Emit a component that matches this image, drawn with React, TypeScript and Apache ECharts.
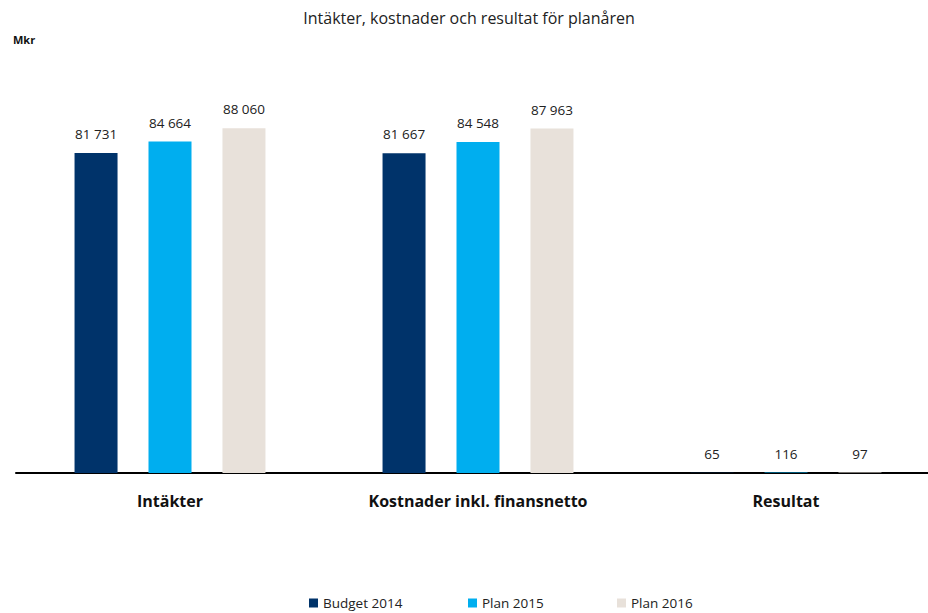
import React, { useEffect, useRef } from "react";
import * as echarts from "echarts";

const categories = ["Intäkter", "Kostnader inkl. finansnetto", "Resultat"];
const seriesNames = ["Budget 2014", "Plan 2015", "Plan 2016"];
const budget2014 = [81731, 81667, 65];
const plan2015 = [84664, 84548, 116];
const plan2016 = [88060, 87963, 97];
const colors = ["#00336A", "#00AEEF", "#E8E1DA"];

const fmt = (v: number) => String(v).replace(/\B(?=(\d{3})+(?!\d))/g, " ");

export default function App() {
  const ref = useRef<HTMLDivElement>(null);
  useEffect(() => {
    const chart = echarts.init(ref.current!, null, { renderer: "svg" });
    const font = "'Open Sans', 'Noto Sans', sans-serif";
    const data = [budget2014, plan2015, plan2016];
    const legendLefts = [309, 468, 617];
    chart.setOption({
      animation: false,
      backgroundColor: "#ffffff",
      title: [
        {
          text: "Intäkter, kostnader och resultat för planåren",
          left: 464,
          textAlign: "center",
          top: 5,
          textStyle: { fontFamily: font, fontSize: 16, fontWeight: "normal", color: "#222" },
        },
        {
          text: "Mkr",
          left: 8,
          top: 29,
          textStyle: { fontFamily: font, fontSize: 11, fontWeight: "bold", color: "#111" },
        },
      ],
      legend: seriesNames.map((name, i) => ({
        top: 596,
        left: legendLefts[i],
        padding: 0,
        itemWidth: 9,
        itemHeight: 9,
        itemTextGap: 3,
        icon: "rect",
        textStyle: { fontFamily: font, fontSize: 13.5, color: "#222" },
        data: [name],
      })),
      grid: { left: 16, right: 5, top: 81.5, bottom: 140, containLabel: false },
      xAxis: {
        type: "category",
        data: categories,
        axisTick: { show: false },
        axisLine: { lineStyle: { color: "#000", width: 2 } },
        axisLabel: { fontFamily: font, fontSize: 16, fontWeight: "bold", color: "#111", margin: 20 },
      },
      yAxis: { type: "value", min: 0, max: 100000, show: false, splitLine: { show: false } },
      series: seriesNames.map((name, i) => ({
        name,
        type: "bar",
        data: data[i],
        barWidth: 43,
        barGap: "72%",
        itemStyle: { color: colors[i] },
        label: {
          show: true,
          position: "top",
          distance: 12,
          fontFamily: font,
          fontSize: 13.5,
          color: "#222",
          formatter: (p: any) => fmt(p.value),
        },
      })),
    });
    return () => chart.dispose();
  }, []);
  return (
    <div style={{ position: "absolute", left: 0, top: 0, width: 928, height: 613, overflow: "hidden" }}>
      <div ref={ref} style={{ width: 945, height: 613 }} />
    </div>
  );
}
